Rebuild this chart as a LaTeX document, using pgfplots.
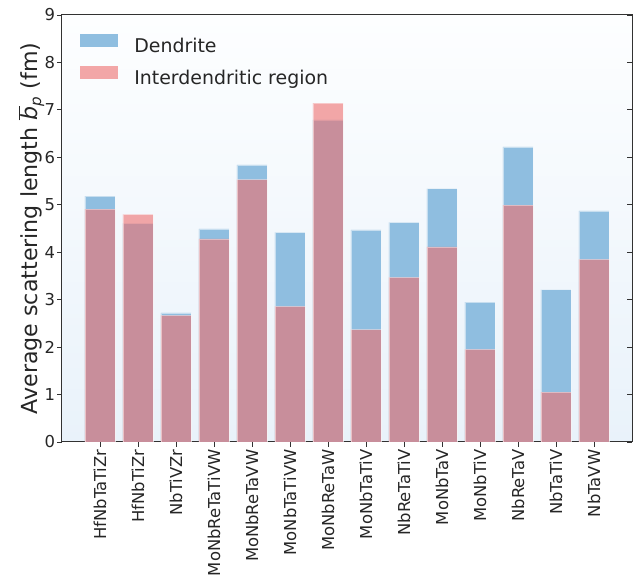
\documentclass[border=0pt]{standalone}
\usepackage{pgfplots}
\pgfplotsset{compat=1.18}
\usepackage{fontspec}
\setmainfont{DejaVu Sans}

\definecolor{dblue}{RGB}{143,190,224}
\definecolor{ired}{RGB}{238,110,110}
\definecolor{bgtop}{RGB}{253,254,255}
\definecolor{bgbot}{RGB}{233,242,250}
\definecolor{axgray}{RGB}{50,50,50}

\pgfplotstableread{
x dend inter
0 5.18 4.91
1 4.61 4.80
2 2.72 2.67
3 4.49 4.28
4 5.84 5.53
5 4.42 2.86
6 6.79 7.14
7 4.47 2.37
8 4.63 3.47
9 5.34 4.11
10 2.95 1.95
11 6.22 4.99
12 3.21 1.05
13 4.87 3.85
}\datatable

\begin{document}
\begin{tikzpicture}
\begin{axis}[
  name=main,
  at={(0,0)}, anchor=south west,
  width=427.5pt, height=320.25pt, scale only axis,
  xmin=-1, xmax=14, ymin=0, ymax=9,
  xtick={0,...,13},
  xticklabels={HfNbTaTiZr,HfNbTiZr,NbTiVZr,MoNbReTaTiVW,MoNbReTaVW,MoNbTaTiVW,MoNbReTaW,MoNbTaTiV,NbReTaTiV,MoNbTaV,MoNbTiV,NbReTaV,NbTaTiV,NbTaVW},
  x tick label style={rotate=90, anchor=east, font=\fontsize{12.3}{13}\selectfont, text=black!85, inner sep=2pt},
  ytick={0,...,9},
  y tick label style={font=\fontsize{12.3}{13}\selectfont, text=black!85, inner sep=1.5pt},
  /pgf/number format/assume math mode=true,
  xtick pos=bottom, ytick pos=left,
  tick align=outside,
  major tick length=3.5pt,
  every tick/.style={axgray, line width=0.6pt},
  axis line style={axgray, line width=0.75pt},
  axis background/.style={top color=bgtop, bottom color=bgbot},
  every axis y label/.style={at={(axis description cs:-0.054,0.5)}, rotate=90, anchor=center, font=\fontsize{16.6}{19}\selectfont, text=black!85},
  ylabel={Average scattering length $\overline{\mbox{\itshape b}}_{\mbox{\itshape\fontsize{11.3}{12}\selectfont p}}$ (fm)},
  legend style={at={(axis description cs:0.0316,0.955)}, anchor=north west, draw=none, fill=none,
    font=\fontsize{14.2}{17}\selectfont, row sep=7.5pt, inner sep=0pt,
    nodes={text height=10.5pt, text depth=3pt, inner sep=0pt, text=black!85},
    /tikz/every odd column/.style={column sep=12pt}},
  legend cell align=left,
  legend image code/.code={\fill[#1, draw=none] (0pt,0pt) rectangle (28.5pt,9.75pt);},
]
\addplot[ybar, bar width=0.8, bar shift=0pt, fill=dblue, draw=white, draw opacity=0.5, line width=0.4pt] table[x=x, y=dend] {\datatable};
\addlegendentry{Dendrite}
\addplot[ybar, bar width=0.8, bar shift=0pt, fill=ired, fill opacity=0.6, draw=white, draw opacity=0.4, line width=0.4pt] table[x=x, y=inter] {\datatable};
\addlegendentry{Interdendritic region}
\end{axis}
\begin{axis}[
  at={(main.south west)}, anchor=south west,
  width=427.5pt, height=320.25pt, scale only axis,
  xmin=-1, xmax=14, ymin=0, ymax=9,
  hide x axis, axis y line*=right,
  ytick={0,...,9}, yticklabels={},
  tick align=inside, major tick length=3.5pt,
  every tick/.style={axgray, line width=0.6pt},
  axis line style={axgray, line width=0.75pt},
]
\end{axis}
\pgfresetboundingbox
\path ([shift={(-46.5pt,-104.25pt)}]main.south west) rectangle ([shift={(2.25pt,11.25pt)}]main.north east);
\end{tikzpicture}
\end{document}
